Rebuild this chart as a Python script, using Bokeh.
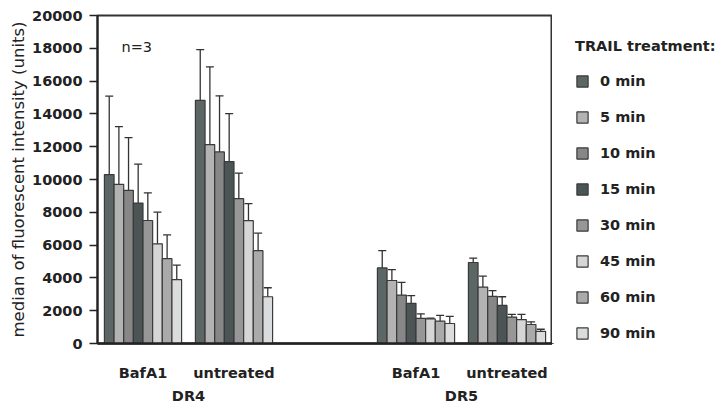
from bokeh.plotting import figure
from bokeh.layouts import row
from bokeh.models import (ColumnDataSource, Whisker, TeeHead, Legend, LegendItem,
                          LinearAxis, FixedTicker, Range1d, Label)
from bokeh.embed import file_html
from bokeh.resources import INLINE

# ---- data -------------------------------------------------------------
receptors = ["DR4", "DR5"]
conditions = ["BafA1", "untreated", "BafA1", "untreated"]
times = ["0 min", "5 min", "10 min", "15 min", "30 min", "45 min", "60 min", "90 min"]

dr4_bafa1 = [10300, 9700, 9340, 8560, 7500, 6080, 5170, 3900]
dr4_bafa1_err = [4780, 3530, 3210, 2380, 1690, 1930, 1450, 880]
dr4_untreated = [14830, 12130, 11680, 11090, 8830, 7490, 5660, 2850]
dr4_untreated_err = [3090, 4740, 3420, 2930, 1560, 1040, 1070, 550]
dr5_bafa1 = [4610, 3840, 2950, 2450, 1530, 1500, 1360, 1220]
dr5_bafa1_err = [1050, 660, 780, 470, 280, 50, 350, 430]
dr5_untreated = [4940, 3440, 2870, 2320, 1610, 1460, 1160, 740]
dr5_untreated_err = [270, 670, 360, 530, 170, 320, 160, 130]

y_ticks = [0, 2000, 4000, 6000, 8000, 10000, 12000, 14000, 16000, 18000, 20000]

# ---- styling ----------------------------------------------------------
colors = ["#5c6665", "#b3b3b3", "#878787", "#4b5556",
          "#979797", "#d6d6d6", "#aaaaaa", "#dadcdd"]
group_pos = [0.5, 1.5, 3.5, 4.5]
receptor_pos = [1.0, 4.0]
bar_w = 0.106
FONT = "DejaVu Sans"
TXT = "#222222"
BAR_LINE = "#3a3a3a"

means = [dr4_bafa1, dr4_untreated, dr5_bafa1, dr5_untreated]
errs = [dr4_bafa1_err, dr4_untreated_err, dr5_bafa1_err, dr5_untreated_err]

p = figure(width=552, height=418, x_range=Range1d(0, 5), y_range=Range1d(0, 20000),
           output_backend="svg", toolbar_location=None, x_axis_location=None,
           min_border_left=97, min_border_right=0, min_border_top=15,
           min_border_bottom=75)
p.grid.visible = False
p.outline_line_color = "#333333"
p.outline_line_width = 2
p.background_fill_color = "white"
p.border_fill_color = "white"

# y axis
ya = p.yaxis[0]
ya.ticker = FixedTicker(ticks=y_ticks)
ya.axis_label = "median of fluorescent intensity (units)"
ya.axis_label_text_font = FONT
ya.axis_label_text_font_style = "normal"
ya.axis_label_text_font_size = "16.5px"
ya.axis_label_text_color = TXT
ya.axis_label_standoff = 1
ya.major_label_text_font = FONT
ya.major_label_text_font_style = "bold"
ya.major_label_text_font_size = "14.5px"
ya.major_label_text_color = TXT
ya.major_label_standoff = 7
ya.major_tick_out = 8
ya.major_tick_in = 0
ya.minor_tick_out = 0
ya.minor_tick_in = 0
ya.axis_line_width = 2
ya.axis_line_color = "#222222"
ya.major_tick_line_color = "#222222"
ya.major_tick_line_width = 1.5

# x axes: treatment condition row and receptor row
xa = LinearAxis(ticker=FixedTicker(ticks=group_pos),
                major_label_overrides={g: c for g, c in zip(group_pos, conditions)})
xb = LinearAxis(ticker=FixedTicker(ticks=receptor_pos),
                major_label_overrides={r: n for r, n in zip(receptor_pos, receptors)})
for ax in (xa, xb):
    ax.major_label_text_font = FONT
    ax.major_label_text_font_style = "bold"
    ax.major_label_text_font_size = "14.5px"
    ax.major_label_text_color = TXT
    ax.major_tick_out = 0
    ax.major_tick_in = 0
    ax.minor_tick_out = 0
    ax.minor_tick_in = 0
xa.axis_line_width = 2.5
xa.axis_line_color = "#222222"
xa.major_label_standoff = 21
xb.axis_line_color = None
xb.major_label_standoff = 4
p.add_layout(xa, "below")
p.add_layout(xb, "below")

# legend panel to the right of the plot; its view range lies beyond the
# data, so only the legend swatches show
lg = figure(width=169, height=418, x_range=Range1d(20, 21), y_range=Range1d(30000, 40000),
            output_backend="svg", toolbar_location=None,
            x_axis_location=None, y_axis_location=None,
            min_border_left=0, min_border_right=0, min_border_top=15,
            min_border_bottom=75)
lg.grid.visible = False
lg.outline_line_color = None

# bars, one renderer per time point
items = []
wx, wu, wl = [], [], []
for i, t in enumerate(times):
    xs = [g + (i - 3.5) * bar_w for g in group_pos]
    ys = [m[i] for m in means]
    es = [e[i] for e in errs]
    src = ColumnDataSource(dict(x=xs, top=ys))
    style = dict(x="x", top="top", width=bar_w, bottom=0, source=src,
                 fill_color=colors[i], line_color=BAR_LINE, line_width=1.2)
    p.vbar(**style)
    r = lg.vbar(**style)
    items.append(LegendItem(label=t, renderers=[r]))
    wx += xs
    wu += [y + e for y, e in zip(ys, es)]
    wl += [y - e for y, e in zip(ys, es)]

wsrc = ColumnDataSource(dict(x=wx, upper=wu, lower=wl))
p.add_layout(Whisker(source=wsrc, base="x", upper="upper", lower="lower",
                     line_color="#333333", line_width=1.3,
                     upper_head=TeeHead(size=8, line_color="#333333", line_width=1.3),
                     lower_head=TeeHead(size=8, line_color="#333333", line_width=1.3)))

p.add_layout(Label(x=0.264, y=18050, text="n=3", text_font=FONT,
                   text_font_size="14.5px", text_color=TXT, text_baseline="middle"))

legend = Legend(items=items, title="TRAIL treatment:", location=(23, 0),
                title_text_font=FONT, title_text_font_style="bold",
                title_text_font_size="14.5px", title_text_color=TXT,
                title_standoff=16,
                label_text_font=FONT, label_text_font_style="bold",
                label_text_font_size="14.5px", label_text_color=TXT,
                glyph_width=14, glyph_height=14, label_height=21,
                label_standoff=11, spacing=15, padding=0, margin=0,
                border_line_color=None, background_fill_alpha=0)
lg.add_layout(legend, "center")

layout = row(p, lg, spacing=0)
open("out.html", "w").write(file_html(layout, INLINE))
